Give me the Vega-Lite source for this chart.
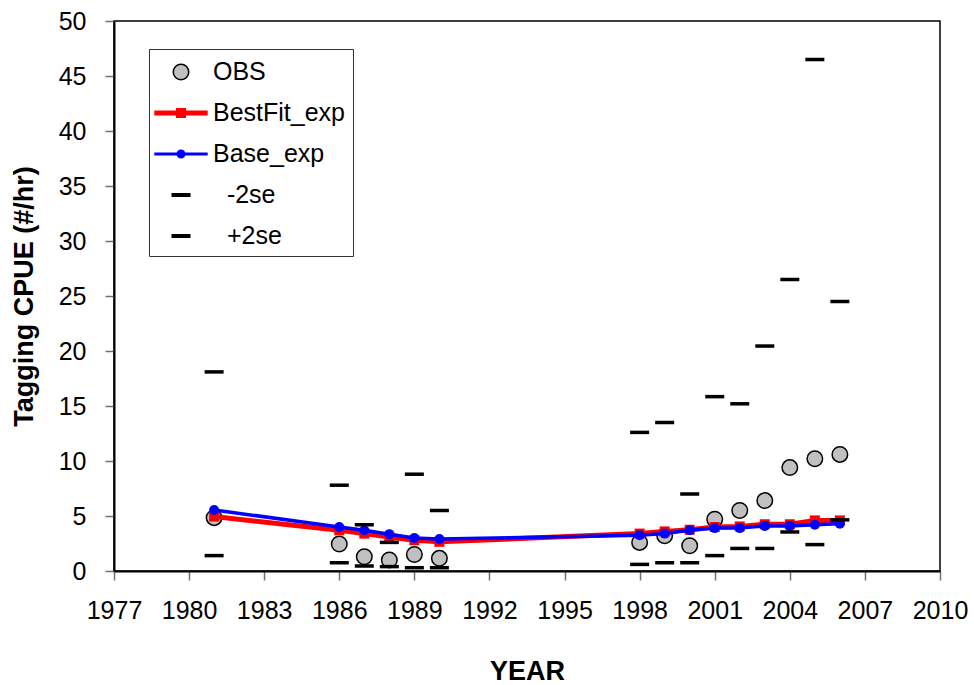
{
  "$schema": "https://vega.github.io/schema/vega-lite/v6.json",
  "width": 826,
  "height": 550,
  "autosize": {"type": "none"},
  "padding": {"left": 114, "top": 21, "right": 34, "bottom": 114},
  "background": "white",
  "config": {
    "font": "Liberation Sans",
    "view": {"stroke": "black", "strokeWidth": 1.5},
    "axis": {
      "grid": false,
      "domainColor": "black",
      "domainWidth": 2,
      "tickColor": "#707070",
      "tickWidth": 1.5,
      "tickSize": 9,
      "labelOverlap": false,
      "labelFlush": false,
      "labelFont": "Liberation Sans",
      "labelFontSize": 25,
      "labelColor": "black",
      "titleFont": "Liberation Sans",
      "titleFontSize": 27,
      "titleFontWeight": "bold",
      "titleColor": "black"
    },
    "legend": {
      "labelFont": "Liberation Sans",
      "labelFontSize": 25,
      "labelColor": "black",
      "labelLimit": 400
    }
  },
  "data": {
    "values": [
      {"year": 1981, "series": "OBS", "value": 4.85},
      {"year": 1986, "series": "OBS", "value": 2.45},
      {"year": 1987, "series": "OBS", "value": 1.3},
      {"year": 1988, "series": "OBS", "value": 1.0},
      {"year": 1989, "series": "OBS", "value": 1.5},
      {"year": 1990, "series": "OBS", "value": 1.15},
      {"year": 1998, "series": "OBS", "value": 2.6},
      {"year": 1999, "series": "OBS", "value": 3.2},
      {"year": 2000, "series": "OBS", "value": 2.3},
      {"year": 2001, "series": "OBS", "value": 4.7},
      {"year": 2002, "series": "OBS", "value": 5.5},
      {"year": 2003, "series": "OBS", "value": 6.4},
      {"year": 2004, "series": "OBS", "value": 9.4},
      {"year": 2005, "series": "OBS", "value": 10.2},
      {"year": 2006, "series": "OBS", "value": 10.6},
      {"year": 1981, "series": "BestFit_exp", "value": 4.95},
      {"year": 1986, "series": "BestFit_exp", "value": 3.7},
      {"year": 1987, "series": "BestFit_exp", "value": 3.4},
      {"year": 1988, "series": "BestFit_exp", "value": 3.1},
      {"year": 1989, "series": "BestFit_exp", "value": 2.8},
      {"year": 1990, "series": "BestFit_exp", "value": 2.65},
      {"year": 1998, "series": "BestFit_exp", "value": 3.4},
      {"year": 1999, "series": "BestFit_exp", "value": 3.6},
      {"year": 2000, "series": "BestFit_exp", "value": 3.75},
      {"year": 2001, "series": "BestFit_exp", "value": 4.0},
      {"year": 2002, "series": "BestFit_exp", "value": 4.05},
      {"year": 2003, "series": "BestFit_exp", "value": 4.25},
      {"year": 2004, "series": "BestFit_exp", "value": 4.25},
      {"year": 2005, "series": "BestFit_exp", "value": 4.6},
      {"year": 2006, "series": "BestFit_exp", "value": 4.6},
      {"year": 1981, "series": "Base_exp", "value": 5.55},
      {"year": 1986, "series": "Base_exp", "value": 4.0},
      {"year": 1987, "series": "Base_exp", "value": 3.7},
      {"year": 1988, "series": "Base_exp", "value": 3.35},
      {"year": 1989, "series": "Base_exp", "value": 3.0},
      {"year": 1990, "series": "Base_exp", "value": 2.9},
      {"year": 1998, "series": "Base_exp", "value": 3.25},
      {"year": 1999, "series": "Base_exp", "value": 3.4},
      {"year": 2000, "series": "Base_exp", "value": 3.7},
      {"year": 2001, "series": "Base_exp", "value": 3.9},
      {"year": 2002, "series": "Base_exp", "value": 3.9},
      {"year": 2003, "series": "Base_exp", "value": 4.1},
      {"year": 2004, "series": "Base_exp", "value": 4.1},
      {"year": 2005, "series": "Base_exp", "value": 4.2},
      {"year": 2006, "series": "Base_exp", "value": 4.3},
      {"year": 1981, "series": "\u200b\u00a0\u00a0-2se", "value": 1.4},
      {"year": 1986, "series": "\u200b\u00a0\u00a0-2se", "value": 0.75},
      {"year": 1987, "series": "\u200b\u00a0\u00a0-2se", "value": 0.45},
      {"year": 1988, "series": "\u200b\u00a0\u00a0-2se", "value": 0.4},
      {"year": 1989, "series": "\u200b\u00a0\u00a0-2se", "value": 0.3},
      {"year": 1990, "series": "\u200b\u00a0\u00a0-2se", "value": 0.3},
      {"year": 1998, "series": "\u200b\u00a0\u00a0-2se", "value": 0.6},
      {"year": 1999, "series": "\u200b\u00a0\u00a0-2se", "value": 0.75},
      {"year": 2000, "series": "\u200b\u00a0\u00a0-2se", "value": 0.75},
      {"year": 2001, "series": "\u200b\u00a0\u00a0-2se", "value": 1.4},
      {"year": 2002, "series": "\u200b\u00a0\u00a0-2se", "value": 2.05},
      {"year": 2003, "series": "\u200b\u00a0\u00a0-2se", "value": 2.05},
      {"year": 2004, "series": "\u200b\u00a0\u00a0-2se", "value": 3.55},
      {"year": 2005, "series": "\u200b\u00a0\u00a0-2se", "value": 2.4},
      {"year": 2006, "series": "\u200b\u00a0\u00a0-2se", "value": 4.65},
      {"year": 1981, "series": "\u200b\u00a0\u00a0+2se", "value": 18.1},
      {"year": 1986, "series": "\u200b\u00a0\u00a0+2se", "value": 7.8},
      {"year": 1987, "series": "\u200b\u00a0\u00a0+2se", "value": 4.2},
      {"year": 1988, "series": "\u200b\u00a0\u00a0+2se", "value": 2.6},
      {"year": 1989, "series": "\u200b\u00a0\u00a0+2se", "value": 8.8},
      {"year": 1990, "series": "\u200b\u00a0\u00a0+2se", "value": 5.5},
      {"year": 1998, "series": "\u200b\u00a0\u00a0+2se", "value": 12.6},
      {"year": 1999, "series": "\u200b\u00a0\u00a0+2se", "value": 13.5},
      {"year": 2000, "series": "\u200b\u00a0\u00a0+2se", "value": 7.0},
      {"year": 2001, "series": "\u200b\u00a0\u00a0+2se", "value": 15.85},
      {"year": 2002, "series": "\u200b\u00a0\u00a0+2se", "value": 15.2},
      {"year": 2003, "series": "\u200b\u00a0\u00a0+2se", "value": 20.45},
      {"year": 2004, "series": "\u200b\u00a0\u00a0+2se", "value": 26.5},
      {"year": 2005, "series": "\u200b\u00a0\u00a0+2se", "value": 46.5},
      {"year": 2006, "series": "\u200b\u00a0\u00a0+2se", "value": 24.5}
    ]
  },
  "layer": [
    {
      "transform": [{"filter": "datum.series === 'OBS'"}],
      "mark": {"type": "point", "filled": true, "size": 900, "strokeWidth": 1.5, "opacity": 1},
      "encoding": {
        "x": {
          "field": "year", "type": "quantitative",
          "scale": {"domain": [1977, 2010], "nice": false, "zero": false},
          "axis": {"values": [1977, 1980, 1983, 1986, 1989, 1992, 1995, 1998, 2001, 2004, 2007, 2010], "format": "d", "title": "YEAR", "labelPadding": 18, "titlePadding": 35}
        },
        "y": {
          "field": "value", "type": "quantitative",
          "scale": {"domain": [0, 50], "nice": false},
          "axis": {"values": [0, 5, 10, 15, 20, 25, 30, 35, 40, 45, 50], "title": "Tagging CPUE (#/hr)", "labelPadding": 19, "titlePadding": 20}
        },
        "fill": {
          "field": "series", "type": "nominal",
          "scale": {"domain": ["OBS", "BestFit_exp", "Base_exp", "\u200b\u00a0\u00a0-2se", "\u200b\u00a0\u00a0+2se"], "range": ["#c0c0c0", "#ff0000", "#0000ff", "#000000", "#000000"]},
          "legend": {"orient": "none", "legendX": 35, "legendY": 28, "title": null, "padding": 7, "strokeColor": "#333333", "symbolSize": 900, "symbolStrokeWidth": 1.5, "symbolOffset": 9, "labelOffset": 16, "rowPadding": 12, "symbolOpacity": 1}
        },
        "stroke": {
          "field": "series", "type": "nominal",
          "scale": {"domain": ["OBS", "BestFit_exp", "Base_exp", "\u200b\u00a0\u00a0-2se", "\u200b\u00a0\u00a0+2se"], "range": ["#000000", "#ff0000", "#0000ff", "#000000", "#000000"]},
          "legend": {"orient": "none", "legendX": 35, "legendY": 28, "title": null, "padding": 7, "strokeColor": "#333333", "symbolSize": 900, "symbolStrokeWidth": 1.5, "symbolOffset": 9, "labelOffset": 16, "rowPadding": 12, "symbolOpacity": 1}
        },
        "shape": {
          "field": "series", "type": "nominal",
          "scale": {"domain": ["OBS", "BestFit_exp", "Base_exp", "\u200b\u00a0\u00a0-2se", "\u200b\u00a0\u00a0+2se"], "range": [
            "M-0.517,0A0.517,0.517 0 1,1 0.517,0A0.517,0.517 0 1,1 -0.517,0Z",
            "M-1.73,-0.117H1.73V0.117H-1.73Z M-0.283,-0.283H0.283V0.283H-0.283Z",
            "M-1.73,-0.05H1.73V0.05H-1.73Z M-0.25,0A0.25,0.25 0 1,1 0.25,0A0.25,0.25 0 1,1 -0.25,0Z",
            "M-0.583,-0.083H0.583V0.083H-0.583Z",
            "M-0.583,-0.083H0.583V0.083H-0.583Z"
          ]},
          "legend": {"orient": "none", "legendX": 35, "legendY": 28, "title": null, "padding": 7, "strokeColor": "#333333", "symbolSize": 900, "symbolStrokeWidth": 1.5, "symbolOffset": 9, "labelOffset": 16, "rowPadding": 12, "symbolOpacity": 1}
        }
      }
    },
    {
      "transform": [{"filter": "datum.series === 'BestFit_exp'"}],
      "mark": {"type": "line", "color": "#ff0000", "strokeWidth": 5, "point": {"shape": "square", "size": 100, "filled": true, "color": "#ff0000", "opacity": 1}},
      "encoding": {
        "x": {"field": "year", "type": "quantitative"},
        "y": {"field": "value", "type": "quantitative"}
      }
    },
    {
      "transform": [{"filter": "datum.series === 'Base_exp'"}],
      "mark": {"type": "line", "color": "#0000ff", "strokeWidth": 3.5, "point": {"shape": "circle", "size": 100, "filled": true, "color": "#0000ff", "opacity": 1}},
      "encoding": {
        "x": {"field": "year", "type": "quantitative"},
        "y": {"field": "value", "type": "quantitative"}
      }
    },
    {
      "transform": [{"filter": "datum.series !== 'OBS' && datum.series !== 'BestFit_exp' && datum.series !== 'Base_exp'"}],
      "mark": {"type": "tick", "orient": "horizontal", "size": 19, "thickness": 3.5, "color": "#000000", "opacity": 1},
      "encoding": {
        "x": {"field": "year", "type": "quantitative"},
        "y": {"field": "value", "type": "quantitative"}
      }
    }
  ]
}
